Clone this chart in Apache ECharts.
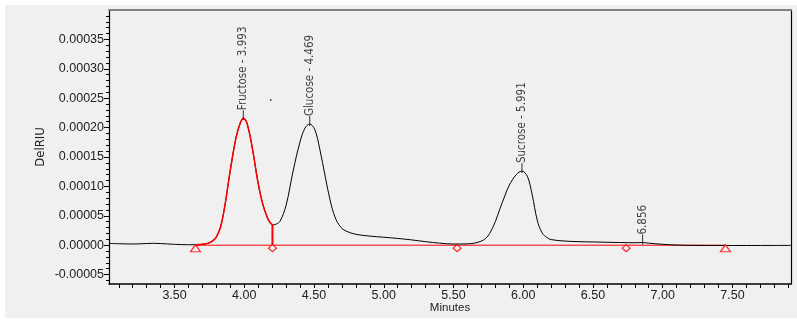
<!DOCTYPE html>
<html><head><meta charset="utf-8">
<script src="https://cdn.jsdelivr.net/npm/echarts@6/dist/echarts.min.js"></script>
<style>html,body{margin:0;padding:0;background:#fff}#c{width:797px;height:321px}</style>
</head><body><div id="c"></div>
<script>
// ---- data ----
const times = [3.03,3.10,3.20,3.30,3.35,3.40,3.50,3.60,3.65,3.70,3.75,3.78,3.80,3.83,3.86,3.90,3.94,3.97,3.993,4.02,4.06,4.095,4.13,4.167,4.19,4.205,4.23,4.257,4.30,4.35,4.40,4.435,4.469,4.505,4.54,4.58,4.615,4.65,4.69,4.73,4.80,4.90,5.00,5.10,5.20,5.30,5.40,5.50,5.60,5.65,5.70,5.73,5.76,5.80,5.83,5.87,5.90,5.95,5.991,6.03,6.065,6.10,6.135,6.17,6.20,6.30,6.40,6.50,6.60,6.70,6.80,6.856,6.90,7.00,7.10,7.20,7.40,7.60,7.80,7.92];
const signal = [3.0e-6,2.5e-6,2.0e-6,2.8e-6,3.2e-6,2.8e-6,1.5e-6,0.8e-6,0.8e-6,1.5e-6,4e-6,8.5e-6,14e-6,31e-6,66e-6,128e-6,182e-6,207e-6,216e-6,207e-6,162e-6,111e-6,72e-6,46e-6,37e-6,34.5e-6,36e-6,41e-6,68e-6,126e-6,176e-6,199e-6,206e-6,197e-6,165e-6,117e-6,77e-6,48e-6,31e-6,24e-6,18.5e-6,15.5e-6,13.5e-6,11.5e-6,9e-6,6e-6,3.5e-6,2e-6,2.3e-6,3.5e-6,7e-6,11.5e-6,20e-6,40e-6,60e-6,85e-6,102e-6,120e-6,126e-6,117e-6,85e-6,43e-6,21e-6,13e-6,9.5e-6,7e-6,6e-6,5.5e-6,5e-6,4.5e-6,4.2e-6,4.5e-6,3.5e-6,1.5e-6,0.2e-6,-0.3e-6,-0.5e-6,-0.5e-6,-0.4e-6,-0.4e-6];

const peakTimes = [3.993, 4.469, 5.991, 6.856];
const peakHeights = [216e-6, 206e-6, 126e-6, 4.5e-6];
const peakNames = ['Fructose - 3.993', 'Glucose - 4.469', 'Sucrose - 5.991', '6.856'];

const integratedRange = [3.65, 4.205];     // red (integrated) part of the trace
const baselineTimes = [3.65, 7.45];
const baselineLevel = [0, 0];
const triangleTimes = [3.65, 7.45];
const diamondTimes = [4.202, 5.526, 6.738];
const dropLineTime = [4.202];
const dropLineTop = [34.5e-6];
const strayDot = [[4.19, 247e-6]];

const xTickValues = [3.1,3.2,3.3,3.4,3.5,3.6,3.7,3.8,3.9,4.0,4.1,4.2,4.3,4.4,4.5,4.6,4.7,4.8,4.9,5.0,5.1,5.2,5.3,5.4,5.5,5.6,5.7,5.8,5.9,6.0,6.1,6.2,6.3,6.4,6.5,6.6,6.7,6.8,6.9,7.0,7.1,7.2,7.3,7.4,7.5,7.6,7.7,7.8,7.9];
const xLabelValues = [3.5,4.0,4.5,5.0,5.5,6.0,6.5,7.0,7.5];
const yLabelValues = [-0.00005,0,0.00005,0.0001,0.00015,0.0002,0.00025,0.0003,0.00035];
const yMinorValues = [-0.00006,-0.00004,-0.00003,-0.00002,-0.00001,0.00001,0.00002,0.00003,0.00004,0.00006,0.00007,0.00008,0.00009,0.00011,0.00012,0.00013,0.00014,0.00016,0.00017,0.00018,0.00019,0.00021,0.00022,0.00023,0.00024,0.00026,0.00027,0.00028,0.00029,0.00031,0.00032,0.00033,0.00034,0.00036,0.00037,0.00038,0.00039];

const X_MIN = 3.03, X_MAX = 7.92, Y_MIN = -0.000066, Y_MAX = 0.0004;

const NARROW = "'Liberation Sans Narrow','Arial Narrow','DejaVu Sans Condensed','Roboto Condensed',sans-serif";
const SANS = "'Liberation Sans',Arial,Helvetica,sans-serif";

const trace = times.map((t, i) => [t, signal[i]]);
const redTrace = trace.filter(p => p[0] >= integratedRange[0] && p[0] <= integratedRange[1]);

const chart = echarts.init(document.getElementById('c'), null, {renderer: 'canvas'});
chart.setOption({
  animation: false,
  backgroundColor: '#ffffff',
  graphic: [{type: 'rect', z: -10, shape: {x: 5, y: 5, width: 792, height: 313}, style: {fill: '#f0f0f0'}, silent: true}],
  grid: {left: 109, right: 6, top: 10, bottom: 37, containLabel: false},
  xAxis: [{
    type: 'value', min: X_MIN, max: X_MAX, position: 'bottom',
    name: 'Minutes', nameLocation: 'middle', nameGap: 18, nameMoveOverlap: false,
    nameTextStyle: {fontFamily: SANS, fontSize: 11.5, color: '#222'},
    axisLine: {onZero: false, lineStyle: {color: '#000', width: 1.5}},
    axisTick: {show: true, length: 4, customValues: xTickValues, lineStyle: {color: '#000'}},
    axisLabel: {customValues: xLabelValues, formatter: v => v.toFixed(2), fontFamily: SANS, fontSize: 12.5, color: '#222', margin: 5},
    splitLine: {show: false}
  }, {
    type: 'value', min: X_MIN, max: X_MAX, position: 'top',
    axisLine: {onZero: false, lineStyle: {color: '#808080', width: 2}},
    axisTick: {show: false}, axisLabel: {show: false}, splitLine: {show: false}
  }],
  yAxis: [{
    type: 'value', min: Y_MIN, max: Y_MAX, position: 'left',
    name: 'DelRIU', nameLocation: 'middle', nameGap: 62, nameRotate: 90, nameMoveOverlap: false,
    nameTextStyle: {fontFamily: NARROW, fontSize: 13, color: '#222'},
    axisLine: {show: true, onZero: false, lineStyle: {color: '#000', width: 1.2}},
    axisTick: {show: true, length: 5, customValues: yLabelValues, lineStyle: {color: '#000'}},
    axisLabel: {customValues: yLabelValues, formatter: v => v.toFixed(5), fontFamily: SANS, fontSize: 12.5, color: '#222', margin: 5},
    splitLine: {show: false}
  }, {
    type: 'value', min: Y_MIN, max: Y_MAX, position: 'left',
    axisLine: {show: false, onZero: false},
    axisTick: {show: true, length: 3, customValues: yMinorValues, lineStyle: {color: '#000'}},
    axisLabel: {show: false}, splitLine: {show: false}
  }, {
    type: 'value', min: Y_MIN, max: Y_MAX, position: 'right',
    axisLine: {show: true, onZero: false, lineStyle: {color: '#000', width: 1.2}},
    axisTick: {show: false}, axisLabel: {show: false}, splitLine: {show: false}
  }],
  series: [
    {type: 'line', name: 'baseline', data: baselineTimes.map((t, i) => [t, baselineLevel[i]]),
      showSymbol: false, lineStyle: {color: '#ff0000', width: 1}, z: 2, silent: true},
    {type: 'line', name: 'signal', data: trace, showSymbol: false, smooth: 0.35,
      lineStyle: {color: '#000', width: 1}, z: 3, silent: true},
    {type: 'line', name: 'integrated', data: redTrace, showSymbol: false, smooth: 0.35,
      lineStyle: {color: '#ff0000', width: 1.5}, z: 4, silent: true},
    {type: 'line', name: 'drop', data: [[dropLineTime[0], 0], [dropLineTime[0], dropLineTop[0]]],
      showSymbol: false, lineStyle: {color: '#ff0000', width: 2}, z: 4, silent: true},
    {type: 'scatter', name: 'start/end', data: triangleTimes.map(t => [t, 0]),
      symbol: 'triangle', symbolSize: [10, 7], symbolOffset: [0, 3],
      itemStyle: {color: '#f0f0f0', borderColor: '#ff0000', borderWidth: 1.2}, z: 5, silent: true},
    {type: 'scatter', name: 'drops', data: diamondTimes.map(t => [t, 0]),
      symbol: 'diamond', symbolSize: [8, 7], symbolOffset: [0, 3],
      itemStyle: {color: '#f0f0f0', borderColor: '#ff0000', borderWidth: 1.3}, z: 5, silent: true},
    {type: 'scatter', name: 'peaks', data: peakTimes.map((t, i) => ({value: [t, peakHeights[i]], name: peakNames[i]})),
      symbol: 'rect', symbolSize: [1, 10], symbolOffset: [0, -3],
      itemStyle: {color: '#000'}, z: 6, silent: true,
      label: {show: true, position: 'top', distance: 0, rotate: 90, align: 'left', verticalAlign: 'middle',
        formatter: p => p.name, fontFamily: NARROW, fontSize: 11.5, color: '#111'}},
    {type: 'scatter', name: 'dot', data: strayDot, symbol: 'circle', symbolSize: 2,
      itemStyle: {color: '#333'}, z: 6, silent: true}
  ]
});
</script></body></html>
